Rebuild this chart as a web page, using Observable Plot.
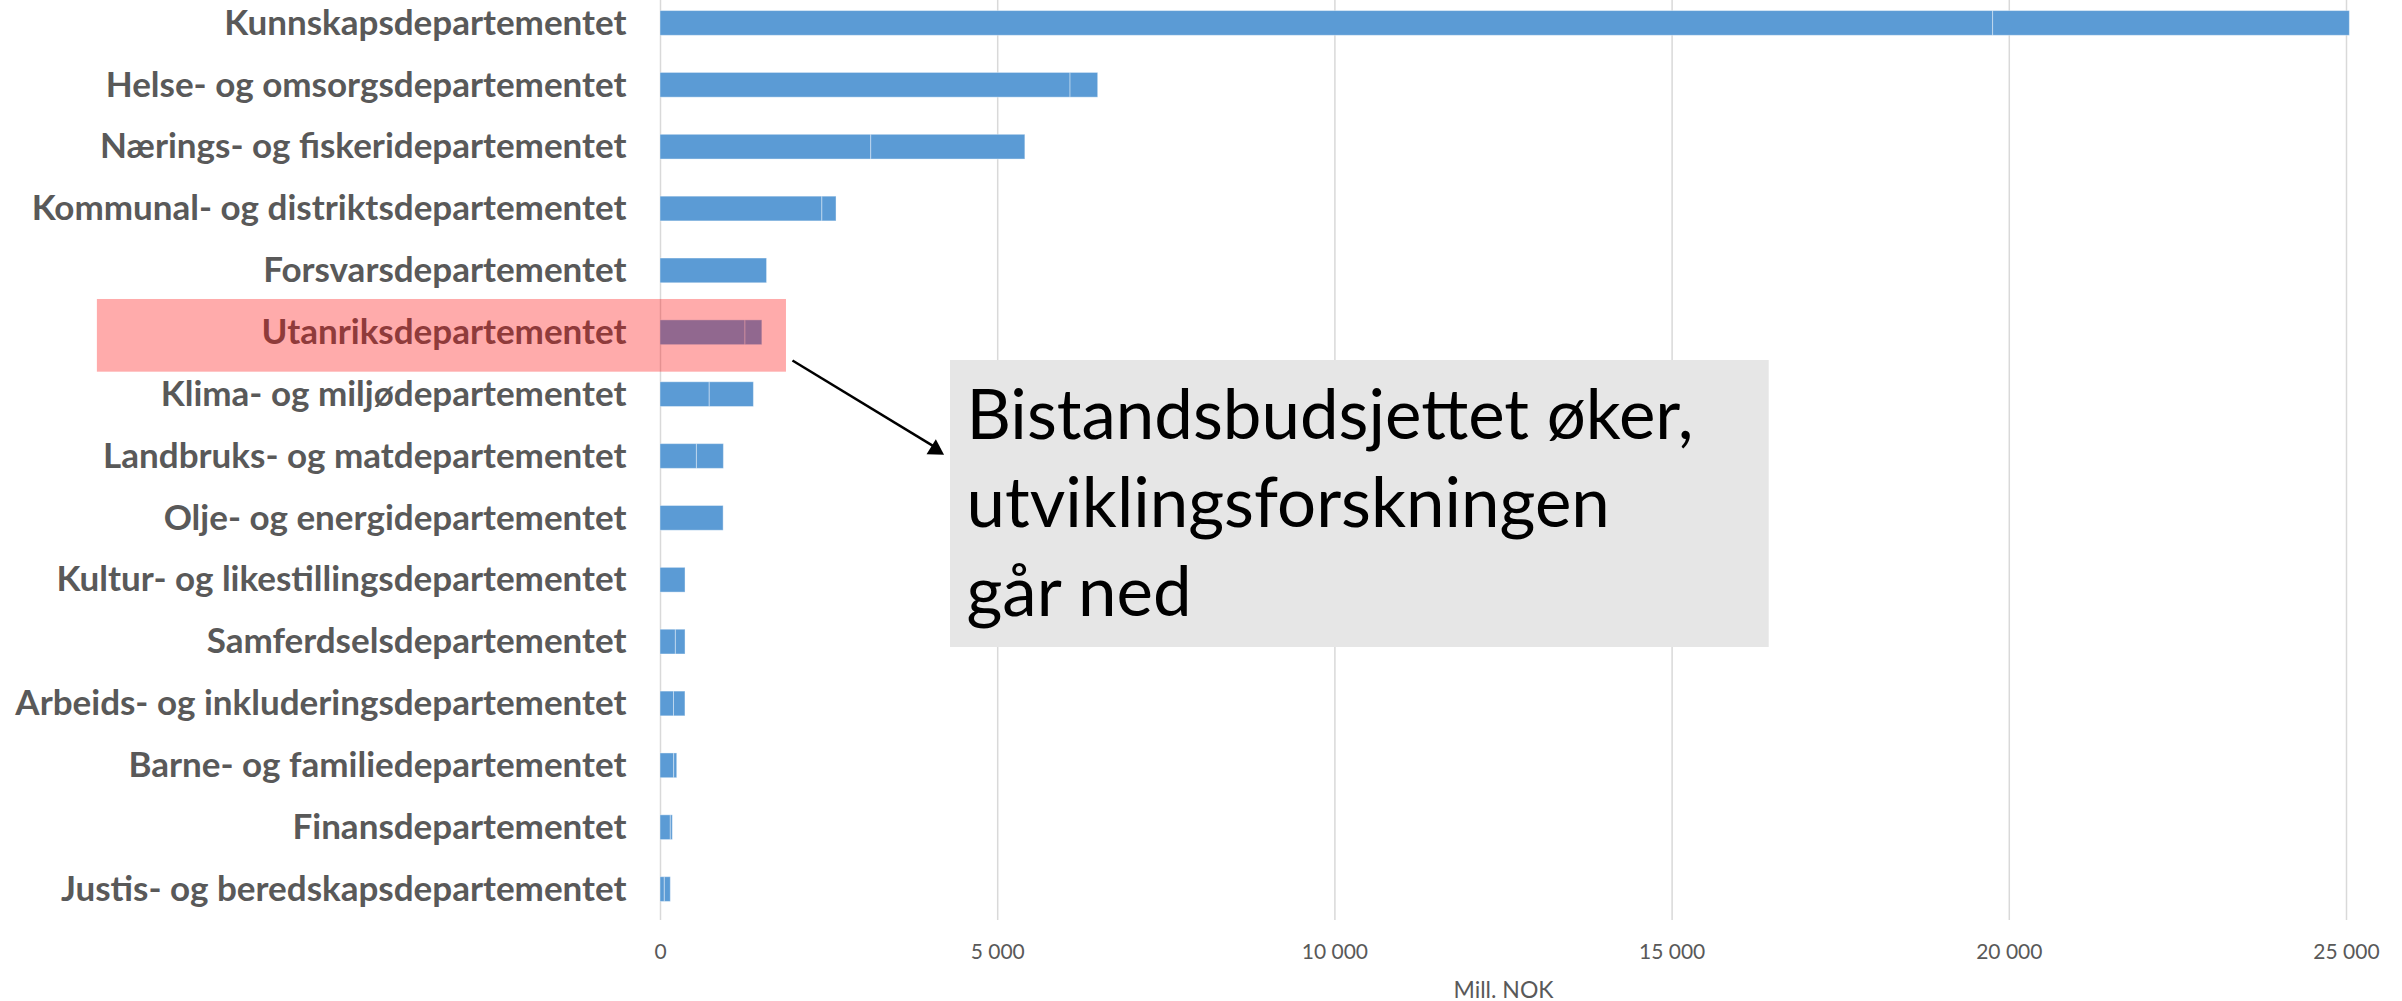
<!DOCTYPE html>
<html>
<head>
<meta charset="utf-8">
<script src="https://cdn.jsdelivr.net/npm/d3@7"></script>
<script src="https://cdn.jsdelivr.net/npm/@observablehq/plot@0.6"></script>
<style>
  html, body { margin: 0; padding: 0; background: #ffffff; }
  #chart svg { display: block; }
</style>
</head>
<body>
<div id="chart"></div>
<script>
// ---- Data ----
const categories = [
  "Kunnskapsdepartementet",
  "Helse- og omsorgsdepartementet",
  "Nærings- og fiskeridepartementet",
  "Kommunal- og distriktsdepartementet",
  "Forsvarsdepartementet",
  "Utanriksdepartementet",
  "Klima- og miljødepartementet",
  "Landbruks- og matdepartementet",
  "Olje- og energidepartementet",
  "Kultur- og likestillingsdepartementet",
  "Samferdselsdepartementet",
  "Arbeids- og inkluderingsdepartementet",
  "Barne- og familiedepartementet",
  "Finansdepartementet",
  "Justis- og beredskapsdepartementet"
];
// two stacked parts of each bar (Mill. NOK)
const partA = [19760, 6080, 3125, 2400, 1580, 1260, 730, 540, 936, 371, 228, 200, 203, 153, 64];
const partB = [5290, 410, 2285, 210, 0, 250, 655, 400, 0, 0, 143, 170, 45, 30, 89];
const xTicks = [0, 5000, 10000, 15000, 20000, 25000];
const axisTitle = "Mill. NOK";
const highlighted = "Utanriksdepartementet";
const noteLines = ["Bistandsbudsjettet øker,", "utviklingsforskningen", "går ned"];

// ---- Derived tables ----
const segments = categories.flatMap((c, i) => {
  const s = [{i, x1: 0, x2: partA[i]}];
  if (partB[i] > 0) s.push({i, x1: partA[i], x2: partA[i] + partB[i]});
  return s;
});
const hiIndex = categories.indexOf(highlighted);
const fmt = d => d3.format(",")(d).replace(/,/g, " ");

const plot = Plot.plot({
  width: 2402,
  height: 1001,
  marginLeft: 660,
  marginRight: 56,
  marginTop: 0,
  marginBottom: 81,
  style: {fontFamily: "Lato, 'Open Sans', sans-serif", background: "#ffffff", overflow: "visible"},
  x: {domain: [0, 25000]},
  y: {domain: [-0.5, 14.5], range: [-8, 920]},
  marks: [
    Plot.gridX(xTicks, {stroke: "#d9d9d9", strokeOpacity: 1, strokeWidth: 1.5}),
    Plot.rect(segments, {
      x1: "x1", x2: "x2",
      y1: d => d.i - 0.2, y2: d => d.i + 0.2,
      fill: "#5b9bd5", stroke: "#ffffff", strokeOpacity: 0.4, strokeWidth: 1
    }),
    Plot.axisY(d3.range(categories.length), {
      tickFormat: i => categories[i],
      tickSize: 0, tickPadding: 34,
      fontSize: 35, fontWeight: "bold", fill: "#595959",
      label: null
    }),
    Plot.axisX(xTicks, {
      tickSize: 0, tickPadding: 24, tickFormat: fmt,
      fontSize: 21, fill: "#595959", label: null
    }),
    Plot.text([axisTitle], {
      frameAnchor: "bottom", dy: 70, fontSize: 23, fill: "#595959", lineAnchor: "middle"
    }),
    // annotation box
    Plot.rect([{x1: 4300, x2: 16440, y1: 5.448, y2: 10.087}], {
      x1: "x1", x2: "x2", y1: "y1", y2: "y2", fill: "#e6e6e6"
    }),
    Plot.text([noteLines.join("\n")], {
      x: 4537, y: 7.69, textAnchor: "start", lineAnchor: "middle",
      lineHeight: 1.28, fontSize: 69, fill: "#000000"
    }),
    // arrow
    Plot.link([{x1: 1957, y1: 5.448, x2: 4150, y2: 6.90}], {
      x1: "x1", y1: "y1", x2: "x2", y2: "y2", stroke: "#000000", strokeWidth: 2.5
    }),
    Plot.dot([{x: 4196, y: 6.967}], {
      x: "x", y: "y", symbol: "triangle", r: 6.5, fill: "#000000", stroke: "none",
      rotate: 122, dx: -8, dy: -5
    }),
    // highlight overlay on Utanriksdepartementet
    Plot.rect([{x1: -8350, x2: 1868, y1: hiIndex - 0.538, y2: hiIndex + 0.637}], {
      x1: "x1", x2: "x2", y1: "y1", y2: "y2", fill: "#ff0000", fillOpacity: 0.33
    })
  ]
});
document.getElementById("chart").appendChild(plot);
</script>
</body>
</html>
